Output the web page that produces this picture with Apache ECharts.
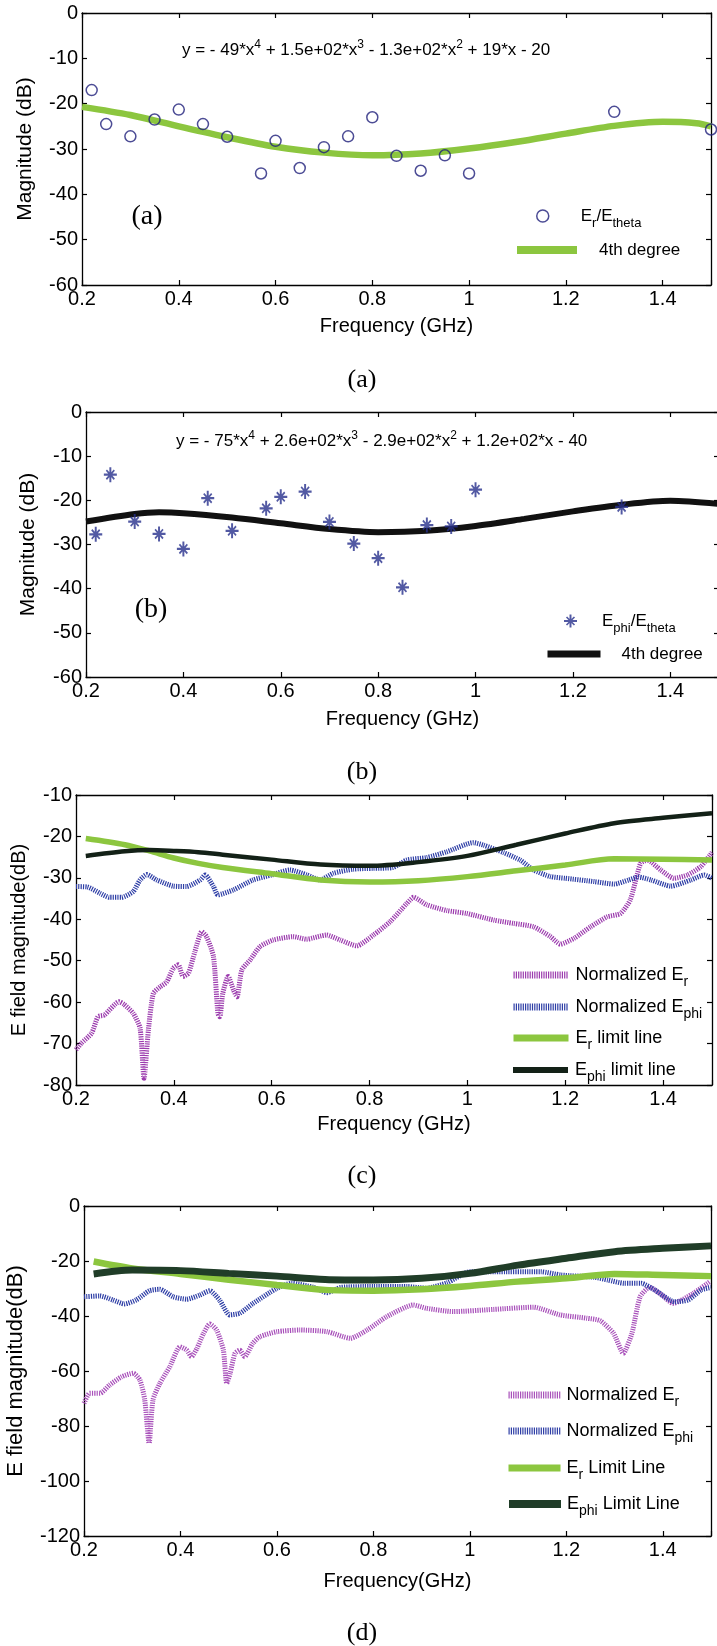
<!DOCTYPE html>
<html><head><meta charset="utf-8">
<script src="https://cdn.jsdelivr.net/npm/echarts@6/dist/echarts.min.js"></script>
<style>html,body{margin:0;padding:0;background:#fff}#c{width:717px;height:1646px}</style>
</head><body><div id="c"></div>
<script>
// ---------- data ----------
const xTickLabels = ['0.2','0.4','0.6','0.8','1','1.2','1.4'];
const yTicksAB = ['-60','-50','-40','-30','-20','-10','0'];
const yTicksC = ['-80','-70','-60','-50','-40','-30','-20','-10'];
const yTicksD = ['-120','-100','-80','-60','-40','-20','0'];

// (a) Er/Etheta samples and 4th degree fit
const aFreq  = [0.22,0.25,0.30,0.35,0.40,0.45,0.50,0.57,0.60,0.65,0.70,0.75,0.80,0.85,0.90,0.95,1.00,1.30,1.50];
const aRatio = [-17.0,-24.5,-27.2,-23.5,-21.3,-24.5,-27.3,-35.4,-28.2,-34.2,-29.6,-27.2,-23.0,-31.5,-34.8,-31.4,-35.4,-21.8,-25.7];
const aFitX  = [0.2,0.3,0.4,0.5,0.6,0.7,0.8,0.9,1.0,1.1,1.2,1.3,1.4,1.47,1.5];
const aFitY  = [-20.7,-22.5,-25.0,-27.4,-29.5,-30.8,-31.4,-31.0,-29.9,-28.4,-26.6,-24.9,-24.0,-24.3,-25.0];

// (b) Ephi/Etheta samples and 4th degree fit
const bFreq  = [0.22,0.25,0.30,0.35,0.40,0.45,0.50,0.57,0.60,0.65,0.70,0.75,0.80,0.85,0.90,0.95,1.00,1.30];
const bRatio = [-27.7,-14.2,-24.8,-27.6,-31.0,-19.5,-26.9,-21.8,-19.2,-18.0,-24.9,-29.8,-33.1,-39.7,-25.6,-25.9,-17.6,-21.5];
const bFitX  = [0.2,0.3,0.35,0.4,0.5,0.6,0.7,0.8,0.9,1.0,1.1,1.2,1.3,1.4,1.5];
const bFitY  = [-24.8,-23.1,-22.7,-22.9,-23.9,-25.2,-26.5,-27.2,-26.9,-25.8,-24.2,-22.5,-21.0,-20.1,-20.8];

// (c)
const cLimX    = [0.22,0.3,0.35,0.4,0.45,0.5,0.6,0.7,0.8,0.9,1.0,1.1,1.2,1.3,1.4,1.5];
const cPhiLim  = [-24.7,-23.6,-23.3,-23.5,-23.8,-24.4,-25.6,-26.8,-27.1,-26.2,-24.7,-22.0,-19.3,-16.8,-15.5,-14.4];
const cRLim    = [-20.5,-22.0,-23.5,-25.2,-26.5,-27.5,-29.0,-30.5,-31.0,-30.7,-29.7,-28.3,-26.9,-25.4,-25.5,-25.7];
const cPhiFreq = [0.2,0.223,0.249,0.268,0.293,0.317,0.331,0.345,0.365,0.399,0.426,0.454,0.464,0.481,0.49,0.522,0.562,0.6,0.637,0.672,0.699,0.726,0.767,0.807,0.848,0.876,0.917,0.958,1.012,1.033,1.074,1.108,1.135,1.17,1.2,1.259,1.3,1.33,1.35,1.375,1.416,1.457,1.484,1.5];
const cPhiNorm = [-32.1,-32.2,-33.7,-34.7,-34.7,-33.3,-30.5,-29.2,-30.5,-32.0,-32.1,-30.5,-29.3,-32.1,-34.1,-32.9,-30.5,-29.3,-28.1,-29.3,-30.5,-28.9,-27.9,-27.7,-27.5,-25.7,-25.1,-23.7,-21.5,-22.1,-23.9,-25.7,-28.1,-29.7,-30.1,-30.9,-31.5,-30.5,-29.8,-30.5,-32.0,-30.5,-29.3,-30.1];
const cRFreq   = [0.2,0.211,0.232,0.245,0.258,0.288,0.298,0.317,0.331,0.339,0.348,0.358,0.372,0.385,0.399,0.409,0.419,0.43,0.443,0.457,0.467,0.481,0.49,0.494,0.5,0.511,0.522,0.529,0.539,0.556,0.576,0.603,0.644,0.671,0.712,0.74,0.774,0.808,0.842,0.876,0.89,0.917,0.958,0.999,1.054,1.095,1.135,1.17,1.19,1.218,1.252,1.286,1.313,1.333,1.354,1.368,1.395,1.422,1.45,1.477,1.5];
const cRNorm   = [-71.5,-69.9,-67.5,-63.5,-63.1,-59.9,-60.5,-62.7,-66.3,-78.4,-66.7,-57.9,-56.3,-55.2,-51.8,-51.0,-53.8,-53.0,-47.8,-43.0,-44.2,-49.0,-62.7,-63.5,-57.9,-53.8,-57.1,-58.7,-52.2,-49.8,-46.6,-45.0,-44.2,-44.8,-43.8,-45.0,-46.4,-43.8,-40.6,-36.2,-34.7,-36.5,-37.9,-38.6,-40.2,-41.0,-41.8,-44.2,-46.0,-44.6,-41.8,-39.4,-38.6,-35.3,-26.5,-25.7,-28.1,-30.1,-29.3,-27.3,-23.9];

// (d)
const dLimX    = [0.22,0.3,0.4,0.5,0.6,0.7,0.8,0.9,1.0,1.1,1.2,1.3,1.4,1.5];
const dPhiLim  = [-24.7,-23.3,-23.5,-24.5,-25.5,-26.7,-26.9,-26.3,-24.5,-21.5,-19.0,-16.6,-15.4,-14.5];
const dRLim    = [-20.2,-22.7,-24.7,-26.8,-28.7,-30.5,-30.8,-30.3,-29.1,-27.5,-26.3,-24.7,-25.1,-25.5];
const dPhiFreq = [0.2,0.233,0.26,0.284,0.308,0.336,0.357,0.385,0.413,0.44,0.461,0.481,0.502,0.523,0.55,0.6,0.63,0.676,0.704,0.732,0.8,0.87,0.91,0.953,1.0,1.05,1.147,1.189,1.258,1.286,1.32,1.355,1.383,1.424,1.452,1.48,1.5];
const dPhiNorm = [-33.0,-32.7,-34.2,-35.6,-34.2,-30.8,-30.3,-33.0,-33.9,-32.4,-30.8,-34.2,-39.6,-39.0,-35.5,-29.9,-28.1,-29.6,-31.5,-29.6,-29.3,-29.3,-29.9,-27.9,-23.9,-23.9,-23.9,-25.1,-25.9,-26.9,-28.1,-28.1,-30.5,-34.8,-34.2,-30.5,-29.6];
const dRFreq   = [0.2,0.212,0.233,0.253,0.278,0.302,0.316,0.326,0.335,0.343,0.357,0.378,0.399,0.413,0.423,0.434,0.448,0.461,0.475,0.489,0.496,0.503,0.513,0.523,0.533,0.55,0.565,0.6,0.648,0.704,0.752,0.787,0.828,0.883,0.91,0.966,1.049,1.132,1.187,1.242,1.27,1.298,1.318,1.336,1.353,1.373,1.394,1.422,1.463,1.498];
const dRNorm   = [-71.7,-68.1,-68.1,-65.1,-62.1,-60.8,-63.3,-70.5,-86.3,-70.5,-64.6,-58.4,-51.2,-52.4,-54.8,-51.8,-46.3,-42.9,-45.1,-52.4,-64.5,-60.8,-53.6,-52.4,-54.8,-49.9,-47.5,-45.7,-45.1,-45.7,-48.1,-45.1,-40.2,-36.0,-37.2,-38.4,-37.6,-36.8,-39.6,-40.8,-41.7,-46.3,-53.6,-46.3,-33.0,-29.6,-31.8,-35.4,-31.8,-27.5];

const legendText = {
  aPts: 'E{sub|r}/E{sub|theta}', aFit: '4th degree',
  bPts: 'E{sub|phi}/E{sub|theta}', bFit: '4th degree',
  cR: 'Normalized E{sub|r}', cPhi: 'Normalized E{sub|phi}', cRLim: 'E{sub|r} limit line', cPhiLim: 'E{sub|phi} limit line',
  dR: 'Normalized E{sub|r}', dPhi: 'Normalized E{sub|phi}', dRLim: 'E{sub|r} Limit Line', dPhiLim: 'E{sub|phi} Limit Line'
};

// ---------- helpers ----------
const SANS = 'Liberation Sans, Arial, sans-serif';
const SERIF = 'Liberation Serif, Times New Roman, serif';
const pairs = (xs, ys) => xs.map((x, i) => [x, ys[i]]);
const lineAx = {onZero:false, lineStyle:{color:'#000', width:1.3}};
const tickAx = {inside:true, length:5, lineStyle:{color:'#000', width:1.2}};

const grids = [
  {left:82, top:13,   width:629, height:272},
  {left:86, top:412,  width:633, height:265},
  {left:76, top:795,  width:636, height:290},
  {left:84, top:1206, width:627, height:330}
].map(g => Object.assign({outerBoundsMode:'none', containLabel:false, show:false}, g));

const panelCfg = [
  {xname:'Frequency (GHz)', xgap:31, yname:'Magnitude (dB)', ygap:46, yfs:21, ymin:-60, ymax:0, yint:10, ylabels:yTicksAB},
  {xname:'Frequency (GHz)', xgap:32, yname:'Magnitude (dB)', ygap:47, yfs:21, ymin:-60, ymax:0, yint:10, ylabels:yTicksAB},
  {xname:'Frequency (GHz)', xgap:29, yname:'E field magnitude(dB)', ygap:47, yfs:20, ymin:-80, ymax:-10, yint:10, ylabels:yTicksC},
  {xname:'Frequency(GHz)', xgap:35, yname:'E field magnitude(dB)', ygap:57, yfs:22, ymin:-120, ymax:0, yint:20, ylabels:yTicksD}
];

const xAxis = [], yAxis = [];
panelCfg.forEach((p, gi) => {
  xAxis.push({type:'value', gridIndex:gi, position:'bottom', min:0.2, max:1.5, interval:0.2,
    name:p.xname, nameLocation:'middle', nameGap:p.xgap,
    nameTextStyle:{fontFamily:SANS, fontSize:20, color:'#000'},
    axisLine:lineAx, axisTick:tickAx, splitLine:{show:false},
    axisLabel:{fontFamily:SANS, fontSize:20, color:'#000', margin:4,
      formatter:v => xTickLabels[Math.round((v - 0.2) / 0.2)]}});
  xAxis.push({type:'value', gridIndex:gi, position:'top', min:0.2, max:1.5, interval:0.2,
    axisLine:lineAx, axisTick:tickAx, splitLine:{show:false}, axisLabel:{show:false}});
  yAxis.push({type:'value', gridIndex:gi, position:'left', min:p.ymin, max:p.ymax, interval:p.yint,
    name:p.yname, nameLocation:'middle', nameGap:p.ygap,
    nameTextStyle:{fontFamily:SANS, fontSize:p.yfs, color:'#000'},
    axisLine:lineAx, axisTick:tickAx, splitLine:{show:false},
    axisLabel:{fontFamily:SANS, fontSize:20, color:'#000', margin:4,
      formatter:v => p.ylabels[Math.round((v - p.ymin) / p.yint)]}});
  yAxis.push({type:'value', gridIndex:gi, position:'right', min:p.ymin, max:p.ymax, interval:p.yint,
    axisLine:lineAx, axisTick:tickAx, splitLine:{show:false}, axisLabel:{show:false}});
});

const PURPLE = '#9c3cae', PURPLE2 = '#a850ba', BLUE = '#2e3ea6', GREEN = '#8cc63f';
const DOT = [1.2, 1.1];
const STAR = 'path://M8.5 0L11.5 0L11.5 20L8.5 20Z M0 8.5L20 8.5L20 11.5L0 11.5Z M3 4.8L4.8 3L17 15.2L15.2 17Z M15.2 3L17 4.8L4.8 17L3 15.2Z';

const series = [
  {name:'aPts', type:'scatter', xAxisIndex:0, yAxisIndex:0, data:pairs(aFreq, aRatio), symbol:'circle', symbolSize:11,
    itemStyle:{color:'rgba(0,0,0,0)', borderColor:'#1f1f7a', borderWidth:1.5}, z:3},
  {name:'aFit', type:'line', xAxisIndex:0, yAxisIndex:0, data:pairs(aFitX, aFitY), smooth:0.3, symbol:'none',
    lineStyle:{color:GREEN, width:6.5}, itemStyle:{color:GREEN}, z:2},
  {name:'bPts', type:'scatter', xAxisIndex:2, yAxisIndex:2, data:pairs(bFreq, bRatio), symbol:STAR, symbolSize:[13,15],
    itemStyle:{color:'#27308c'}, z:3},
  {name:'bFit', type:'line', xAxisIndex:2, yAxisIndex:2, data:pairs(bFitX, bFitY), smooth:0.3, symbol:'none',
    lineStyle:{color:'#111', width:6}, itemStyle:{color:'#111'}, z:2},

  {name:'cR', type:'line', xAxisIndex:4, yAxisIndex:4, data:pairs(cRFreq, cRNorm), smooth:0.2, symbol:'none',
    lineStyle:{color:PURPLE, width:5, type:DOT}, itemStyle:{color:PURPLE}},
  {name:'cPhi', type:'line', xAxisIndex:4, yAxisIndex:4, data:pairs(cPhiFreq, cPhiNorm), smooth:0.2, symbol:'none',
    lineStyle:{color:BLUE, width:5, type:DOT}, itemStyle:{color:BLUE}},
  {name:'cRLim', type:'line', xAxisIndex:4, yAxisIndex:4, data:pairs(cLimX, cRLim), smooth:0.3, symbol:'none',
    lineStyle:{color:GREEN, width:5.5}, itemStyle:{color:GREEN}},
  {name:'cPhiLim', type:'line', xAxisIndex:4, yAxisIndex:4, data:pairs(cLimX, cPhiLim), smooth:0.3, symbol:'none',
    lineStyle:{color:'#132117', width:4.5}, itemStyle:{color:'#132117'}},

  {name:'dR', type:'line', xAxisIndex:6, yAxisIndex:6, data:pairs(dRFreq, dRNorm), smooth:0.2, symbol:'none',
    lineStyle:{color:PURPLE2, width:5, type:DOT}, itemStyle:{color:PURPLE2}},
  {name:'dPhi', type:'line', xAxisIndex:6, yAxisIndex:6, data:pairs(dPhiFreq, dPhiNorm), smooth:0.2, symbol:'none',
    lineStyle:{color:BLUE, width:5, type:DOT}, itemStyle:{color:BLUE}},
  {name:'dRLim', type:'line', xAxisIndex:6, yAxisIndex:6, data:pairs(dLimX, dRLim), smooth:0.3, symbol:'none',
    lineStyle:{color:GREEN, width:6.5}, itemStyle:{color:GREEN}},
  {name:'dPhiLim', type:'line', xAxisIndex:6, yAxisIndex:6, data:pairs(dLimX, dPhiLim), smooth:0.3, symbol:'none',
    lineStyle:{color:'#203d28', width:7}, itemStyle:{color:'#203d28'}}
];

function leg(name, left, top, w, h, pad, fs, extra) {
  return Object.assign({
    show:true, selectedMode:false, orient:'horizontal', left:left, top:top, padding:0,
    itemWidth:w, itemHeight:h, itemGap:0, data:[name],
    formatter:n => legendText[n],
    textStyle:{fontFamily:SANS, fontSize:fs, color:'#000', lineHeight:28, padding:[0,0,0,pad],
      rich:{sub:{fontFamily:SANS, fontSize:Math.round(fs*0.78), color:'#000', lineHeight:13, verticalAlign:'bottom'}}}
  }, extra || {});
}
const noSym = {opacity:0};

const legend = [
  leg('aPts', 536, 202, 12, 12, 27, 17, {itemStyle:{color:'rgba(0,0,0,0)', borderColor:'#1f1f7a', borderWidth:1.5}}),
  leg('aFit', 513, 236, 60, 9, 17, 17, {lineStyle:{width:8}, itemStyle:noSym}),
  leg('bPts', 564, 607, 13, 15, 20, 17),
  leg('bFit', 544, 640, 53, 8, 16, 17, {lineStyle:{width:7}, itemStyle:noSym}),
  leg('cR', 510, 961, 55, 11, 2, 18, {lineStyle:{width:7}, itemStyle:noSym}),
  leg('cPhi', 510, 993, 55, 11, 2, 18, {lineStyle:{width:7}, itemStyle:noSym}),
  leg('cRLim', 510, 1024, 55, 11, 2, 18, {lineStyle:{width:7}, itemStyle:noSym}),
  leg('cPhiLim', 510, 1056, 55, 11, 2, 18, {lineStyle:{width:6}, itemStyle:noSym}),
  leg('dR', 505, 1381, 52, 11, 1, 18, {lineStyle:{width:7}, itemStyle:noSym}),
  leg('dPhi', 505, 1417, 52, 11, 1, 18, {lineStyle:{width:7}, itemStyle:noSym}),
  leg('dRLim', 505, 1454, 52, 11, 1, 18, {lineStyle:{width:7}, itemStyle:noSym}),
  leg('dPhiLim', 505, 1490, 52, 11, 1, 18, {lineStyle:{width:8}, itemStyle:noSym})
];

function eq(x, y, text) {
  return {type:'text', x:x, y:y, z:10, style:{text:text, fontFamily:SANS, fontSize:17, fill:'#000',
    align:'left', verticalAlign:'middle', lineHeight:22,
    rich:{sup:{fontFamily:SANS, fontSize:12, fill:'#000', lineHeight:12, verticalAlign:'top'}}}};
}
function serif(x, y, text, fs) {
  return {type:'text', x:x, y:y, z:10, style:{text:text, fontFamily:SERIF, fontSize:fs, fill:'#000',
    align:'center', verticalAlign:'middle'}};
}

const graphic = [
  eq(182, 50, 'y = - 49*x{sup|4} + 1.5e+02*x{sup|3} - 1.3e+02*x{sup|2} + 19*x - 20'),
  eq(176, 441, 'y = - 75*x{sup|4} + 2.6e+02*x{sup|3} - 2.9e+02*x{sup|2} + 1.2e+02*x - 40'),
  serif(147, 217, '(a)', 28),
  serif(151, 610, '(b)', 28),
  serif(362, 380, '(a)', 26),
  serif(362, 772, '(b)', 26),
  serif(362, 1176, '(c)', 26),
  serif(362, 1633, '(d)', 26)
];

const chart = echarts.init(document.getElementById('c'), null, {renderer:'canvas'});
chart.setOption({
  animation:false,
  backgroundColor:'#fff',
  grid:grids, xAxis:xAxis, yAxis:yAxis, series:series, legend:legend, graphic:graphic
});
</script></body></html>
